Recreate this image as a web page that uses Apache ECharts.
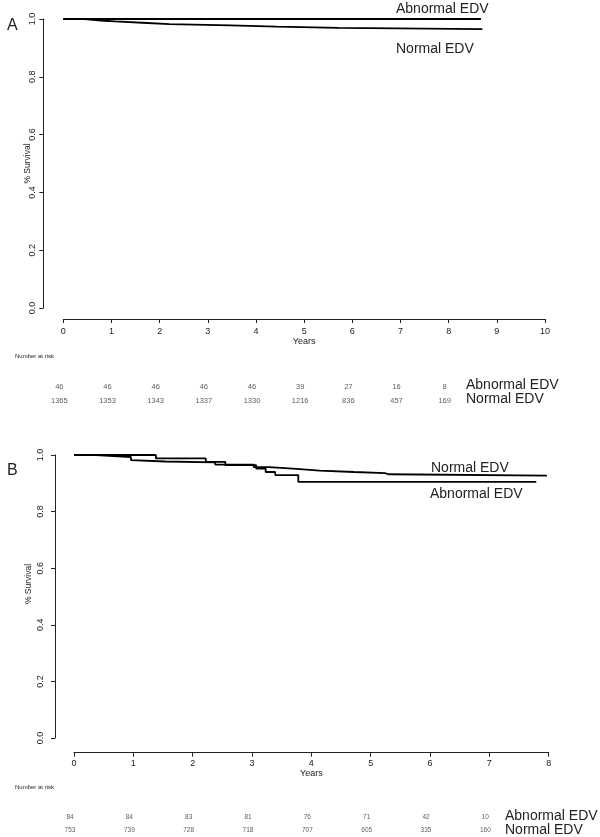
<!DOCTYPE html>
<html><head><meta charset="utf-8">
<script src="https://cdn.jsdelivr.net/npm/echarts@6/dist/echarts.min.js"></script>
<style>html,body{margin:0;padding:0;background:#fff}#c{width:600px;height:837px}</style>
</head><body><div id="c"></div>
<script>
// ---------- data ----------
const groups = ['Abnormal EDV', 'Normal EDV'];
// Panel A
const aAbnT = [0, 8.67];
const aAbnS = [1.0, 1.0];
const aNorT = [0, 0.44, 0.84, 1.08, 1.64, 2.20, 3.47, 4.43, 5.71, 8.70];
const aNorS = [1.0, 0.994, 0.9915, 0.987, 0.982, 0.978, 0.9735, 0.969, 0.965, 0.965];
const aRiskYears = [0, 1, 2, 3, 4, 5, 6, 7, 8];
const aRiskAbn = [46, 46, 46, 46, 46, 39, 27, 16, 8];
const aRiskNor = [1365, 1353, 1343, 1337, 1330, 1216, 836, 457, 169];
// Panel B
const bAbnT = [0, 1.38, 2.22, 2.55, 3.07, 3.23, 3.39, 3.78, 7.79];
const bAbnS = [1.0, 0.988, 0.976, 0.964, 0.952, 0.940, 0.929, 0.905, 0.905];
const bNorT = [0, 0.37, 0.96, 0.99, 1.54, 2.38, 3.03, 3.29, 3.75, 4.14, 4.72, 5.24, 5.30, 7.97];
const bNorS = [1.0, 0.993, 0.982, 0.977, 0.974, 0.966, 0.957, 0.951, 0.945, 0.940, 0.936, 0.932, 0.927, 0.927];
const bRiskYears = [0, 1, 2, 3, 4, 5, 6, 7];
const bRiskAbn = [84, 84, 83, 81, 76, 71, 42, 10];
const bRiskNor = [753, 739, 728, 718, 707, 605, 335, 160];

// ---------- helpers ----------
const FONT = '"Liberation Sans", Arial, Helvetica, sans-serif';
const INK = '#222';
const zip = (t, s) => t.map((v, i) => [v, s[i]]);
const risk = (years, abn, nor) =>
  years.map((y, i) => [y, groups[0], abn[i]]).concat(years.map((y, i) => [y, groups[1], nor[i]]));

function survX(grid, max, offset, margin, gap) {
  return {
    type: 'value', gridIndex: grid, min: 0, max: max, interval: 1, offset: offset,
    axisLine: { show: true, onZero: false, lineStyle: { color: INK, width: 1 } },
    axisTick: { show: true, length: 4, lineStyle: { color: INK } },
    axisLabel: { fontSize: 9, fontFamily: FONT, color: INK, margin: margin },
    splitLine: { show: false },
    name: 'Years', nameLocation: 'middle', nameGap: gap,
    nameTextStyle: { fontSize: 9, fontFamily: FONT, color: INK }
  };
}
function survY(grid, offset, margin) {
  return {
    type: 'value', gridIndex: grid, min: 0, max: 1, interval: 0.2, offset: offset,
    axisLine: { show: true, onZero: false, lineStyle: { color: INK, width: 1 } },
    axisTick: { show: true, length: 4, lineStyle: { color: INK } },
    axisLabel: { fontSize: 9, fontFamily: FONT, color: INK, margin: margin, rotate: 90,
                 formatter: v => v.toFixed(1) },
    splitLine: { show: false }
  };
}
function hiddenX(grid, max) {
  return { type: 'value', gridIndex: grid, min: 0, max: max, show: false, splitLine: { show: false } };
}
function hiddenY(grid) {
  return { type: 'category', gridIndex: grid, data: groups, inverse: true, show: false };
}
function km(x, y, data) {
  return { type: 'line', xAxisIndex: x, yAxisIndex: y, data: data, step: 'end', symbol: 'none',
           clip: false, lineStyle: { color: '#000', width: 1.8 }, animation: false };
}
function riskSeries(x, y, data, fs) {
  return { type: 'scatter', xAxisIndex: x, yAxisIndex: y, data: data, symbolSize: 0,
           animation: false, silent: true,
           label: { show: true, position: 'inside', offset: [-4, 0], fontSize: fs, fontFamily: FONT,
                    color: '#333', formatter: p => String(p.value[2]) } };
}
function txt(x, y, s, fs, align, rot) {
  return { type: 'text', x: x, y: y, rotation: rot || 0,
           style: { text: s, fontSize: fs, fontFamily: FONT, fill: INK,
                    textAlign: align || 'left', textVerticalAlign: 'middle' } };
}

const chart = echarts.init(document.getElementById('c'), null, { renderer: 'canvas' });
chart.setOption({
  backgroundColor: '#fff',
  animation: false,
  grid: [
    { left: 63.3, top: 19, width: 481.7, height: 289 },
    { left: 74, top: 455, width: 474.7, height: 283 },
    { left: 63.3, top: 380.2, width: 481.7, height: 27.4 },
    { left: 74, top: 810.5, width: 474.7, height: 27.4 }
  ],
  xAxis: [survX(0, 10, 11, 8.5, 18.5), survX(1, 8, 14.7, 6, 16.5), hiddenX(2, 10), hiddenX(3, 8)],
  yAxis: [survY(0, 20, 6), survY(1, 19, 10), hiddenY(2), hiddenY(3)],
  series: [
    km(0, 0, zip(aAbnT, aAbnS)),
    km(0, 0, zip(aNorT, aNorS)),
    km(1, 1, zip(bAbnT, bAbnS)),
    km(1, 1, zip(bNorT, bNorS)),
    riskSeries(2, 2, risk(aRiskYears, aRiskAbn, aRiskNor), 7.5),
    riskSeries(3, 3, risk(bRiskYears, bRiskAbn, bRiskNor), 6.5)
  ],
  graphic: [
    txt(7, 26, 'A', 16),
    txt(7, 471, 'B', 16),
    txt(28, 163.5, '% Survival', 8.5, 'center', Math.PI / 2),
    txt(29, 584, '% Survival', 8.5, 'center', Math.PI / 2),
    txt(396, 9, 'Abnormal EDV', 14),
    txt(396, 49, 'Normal EDV', 14),
    txt(431, 468, 'Normal EDV', 14),
    txt(430, 494, 'Abnormal EDV', 14),
    txt(15, 356, 'Number at risk', 6),
    txt(15, 787, 'Number at risk', 6),
    txt(466, 385, 'Abnormal EDV', 14),
    txt(466, 399.5, 'Normal EDV', 14),
    txt(505, 815.7, 'Abnormal EDV', 14),
    txt(505, 830, 'Normal EDV', 14)
  ]
});
</script></body></html>
